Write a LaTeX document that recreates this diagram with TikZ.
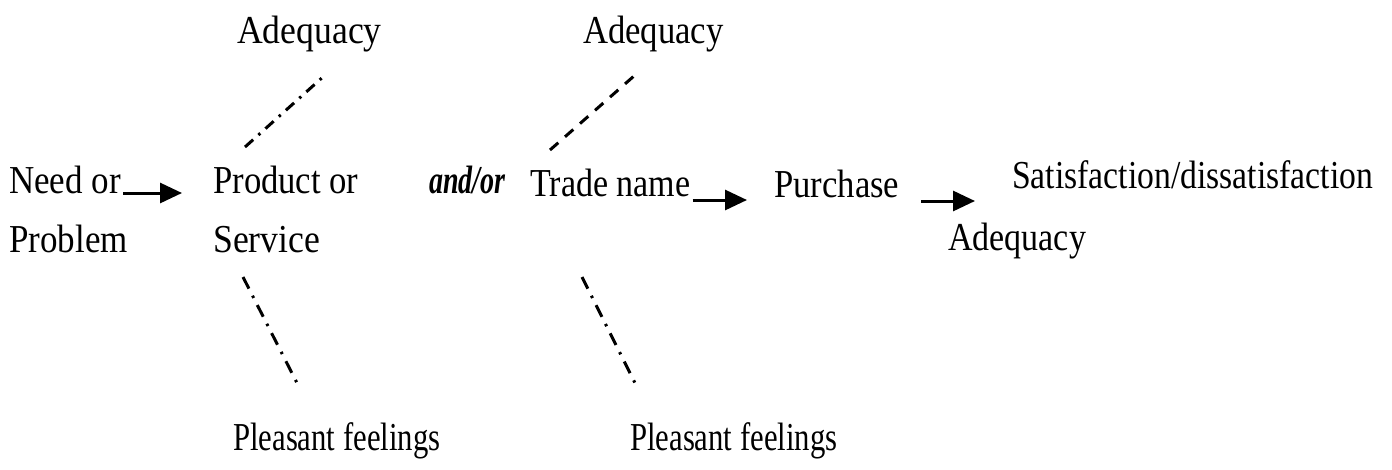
\documentclass[tikz,border=0pt]{standalone}
\usepackage{fontspec}
\setmainfont{Liberation Serif}
\usepackage{graphicx}
\usetikzlibrary{arrows.meta}
\newcommand{\vst}[2][1.04]{\scalebox{#1}[1.2]{#2}}
\begin{document}
\begin{tikzpicture}[x=1pt,y=-1pt,
  txt/.style={inner sep=0pt, anchor=base west, font=\fontsize{33}{40}\selectfont},
  arr/.style={line width=3pt, -{Triangle[length=22pt,width=20pt]}},
  dashdot/.style={line width=3pt, dash pattern=on 11pt off 7pt on 2.5pt off 7pt},
  dashdotlong/.style={line width=3pt, dash pattern=on 13pt off 8pt on 2.5pt off 8pt},
  dashline/.style={line width=3pt, dash pattern=on 11pt off 9pt}]
\useasboundingbox (0,0) rectangle (1392,469);
\fill[white] (0,0) rectangle (1392,469);
% texts
\node[txt] (adq1) at (237,43) {\vst[1.08]{Adequacy}};
\node[txt] (adq2) at (583,43) {\vst[1.05]{Adequacy}};
\node[txt] (needor) at (9,193) {\vst[1.06]{Need or}};
\node[txt] (problem) at (9,252) {\vst[1.06]{Problem}};
\node[txt] (product) at (213,193) {\vst[1.05]{Product or}};
\node[txt] (service) at (213,252) {\vst[1.08]{Service}};
\node[txt] (andor) at (429,193) {\vst[0.85]{\textbf{\textit{and/or}}}};
\node[txt] (trade) at (530,196) {\vst[1.03]{Trade name}};
\node[txt] (purchase) at (774,197) {\vst[1.05]{Purchase}};
\node[txt] (satis) at (1012,188) {\vst[1.02]{Satisfaction/dissatisfaction}};
\node[txt] (adq3) at (948,250) {\vst[1.03]{Adequacy}};
\node[txt] (pf1) at (233,450) {\vst[0.93]{Pleasant feelings}};
\node[txt] (pf2) at (630,450) {\vst[0.93]{Pleasant feelings}};
% arrows
\draw[arr, shorten <=2pt, shorten >=31pt] (needor.base east) -- (needor.base east -| product.west);
\draw[arr, shorten <=2pt, shorten >=27pt] ([yshift=-4pt]trade.base east) -- ([yshift=-4pt]trade.base east -| purchase.west);
\draw[arr, shorten <=22pt, shorten >=37pt] ([yshift=-4pt]purchase.base east) -- ([yshift=-4pt]purchase.base east -| satis.west);
% dotted/dashed links
\coordinate (pu1) at (245,147); \coordinate (au1) at (324,76);
\coordinate (tu1) at (550,150); \coordinate (au2) at (634,76);
\coordinate (pd1) at (243,277); \coordinate (fd1) at (297,383);
\coordinate (td1) at (582,277); \coordinate (fd2) at (635,383);
\draw[dashdot] (pu1) -- (au1);
\draw[dashline] (tu1) -- (au2);
\draw[dashdotlong] (pd1) -- (fd1);
\draw[dashdotlong] (td1) -- (fd2);
\end{tikzpicture}
\end{document}
